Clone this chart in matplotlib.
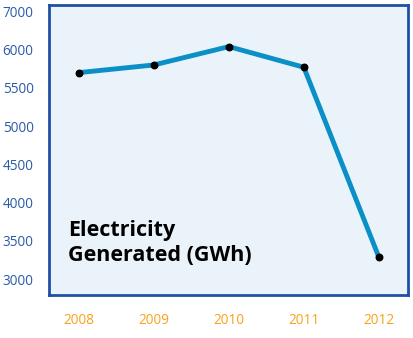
import numpy as np
import matplotlib.pyplot as plt

years = ['2008', '2009', '2010', '2011', '2012']
gwh = [5700, 5800, 6040, 5770, 3290]

# the original axis is labelled 7000 where 6500 would sit
ytick_pos = [3000, 3500, 4000, 4500, 5000, 5500, 6000, 6500]
ytick_lab = ['3000', '3500', '4000', '4500', '5000', '5500', '6000', '7000']

plt.rcParams['font.family'] = ['Open Sans', 'DejaVu Sans']

fig = plt.figure(figsize=(4.14, 3.38), dpi=100)
ax = fig.add_axes([49/414, 43/338, 359/414, 290/338])
ax.set_facecolor('#eaf3fa')

x = np.arange(len(years))
ax.plot(x, gwh, color='#0a8fc6', lw=3.5, solid_capstyle='round', zorder=2)
ax.scatter(x, gwh, s=22, color='black', zorder=3)

ax.set_xlim(-0.4, 4.39)
ax.set_ylim(2792, 6584)
ax.set_xticks(x)
ax.set_xticklabels(years)
ax.set_yticks(ytick_pos)
ax.set_yticklabels(ytick_lab)
ax.tick_params(axis='both', length=0, labelsize=9.8)
ax.tick_params(axis='x', pad=13, labelcolor='#f7a21b')
ax.tick_params(axis='y', pad=11, labelcolor='#2a5aa8')

for s in ax.spines.values():
    s.set_color('#1f50a5')
    s.set_linewidth(2)

ax.text((68-49)/359, (338-220-43)/290, 'Electricity\nGenerated (GWh)',
        transform=ax.transAxes, fontsize=15.5, fontweight='bold',
        va='top', ha='left', linespacing=1.22, color='black')

fig.savefig('out.png', dpi=100)
